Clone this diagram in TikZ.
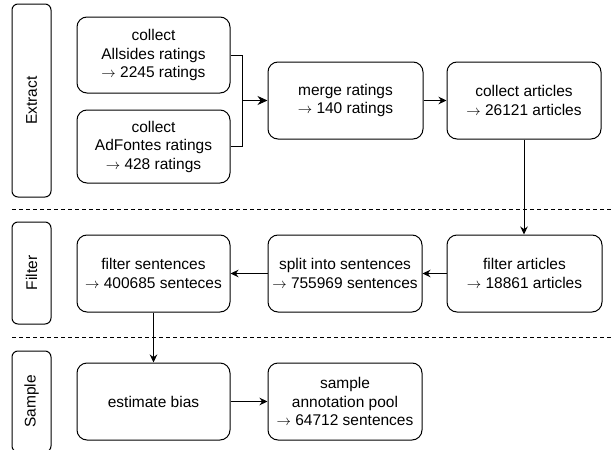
\documentclass[tikz,border=0pt]{standalone}
\usepackage{fontspec}
\setmainfont{Liberation Sans}
\usetikzlibrary{arrows.meta}
\newcommand{\ar}{$\rightarrow$}

\begin{document}
\begin{tikzpicture}[x=1pt,y=-1pt,line width=1pt,
  >={Stealth[length=8pt,width=7.5pt]},
  font=\fontsize{15.5}{18.5}\selectfont]
\tikzstyle{every node}+=[inner sep=0pt]
\tikzstyle{stage}=[draw,rounded corners=10pt,align=center,minimum width=154pt,minimum height=77pt]
\tikzstyle{phase}=[draw,rounded corners=6pt,minimum width=39pt]
\tikzstyle{sep}=[dash pattern=on 4pt off 3pt]
\useasboundingbox (0,0) rectangle (614,450);
% phase labels
\node [phase,minimum height=193pt] (extract) at (31.5,100.5) {};
\node [rotate=90] at (extract) {Extract};
\node [phase,minimum height=102pt] (filter) at (31.5,273) {};
\node [rotate=90] at (filter) {Filter};
\node [phase,minimum height=101pt] (sample) at (31.5,401.5) {};
\node [rotate=90] at (sample) {Sample};
% separators
\draw [sep] (12,209) -- (614,209);
\draw [sep] (12,337) -- (614,337);
% extract
\node [stage,minimum width=153pt,minimum height=76pt] (alls) at (153.5,55) {collect\\Allsides ratings\\\ar{} 2245 ratings};
\node [stage,minimum width=153pt,minimum height=73pt] (adf) at (153.5,146.5) {collect\\AdFontes ratings\\\ar{} 428 ratings};
\node [stage,minimum width=155pt] (merge) at (345.5,100.5) {merge ratings\\\ar{} 140 ratings};
\node [stage] (coll) at (524,100.5) {collect articles\\\ar{} 26121 articles};
% filter
\node [stage,minimum width=155pt] (farts) at (524.5,273.5) {filter articles\\\ar{} 18861 articles};
\node [stage] (split) at (345,273.5) {split into sentences\\\ar{} 755969 sentences};
\node [stage,minimum width=153pt] (fsent) at (153.5,273.5) {filter sentences\\\ar{} 400685 senteces};
% sample
\node [stage,minimum width=153pt] (bias) at (153.5,401.5) {estimate bias};
\node [stage] (pool) at (345,401.5) {sample\\annotation pool\\\ar{} 64712 sentences};
% connectors
\coordinate (join) at (242,100.5);
\draw (alls.east) -| (join);
\draw (adf.east) -| (join);
\draw [-{Stealth[length=10pt,width=9pt]}] (join) -- (merge.west);
\draw [->] (merge) -- (coll);
\draw [->] (coll.south) -- (farts.north -| coll.south);
\draw [->] (farts) -- (split);
\draw [->] (split) -- (fsent);
\draw [->] (fsent) -- (bias);
\draw [->] (bias) -- (pool);
\end{tikzpicture}
\end{document}
